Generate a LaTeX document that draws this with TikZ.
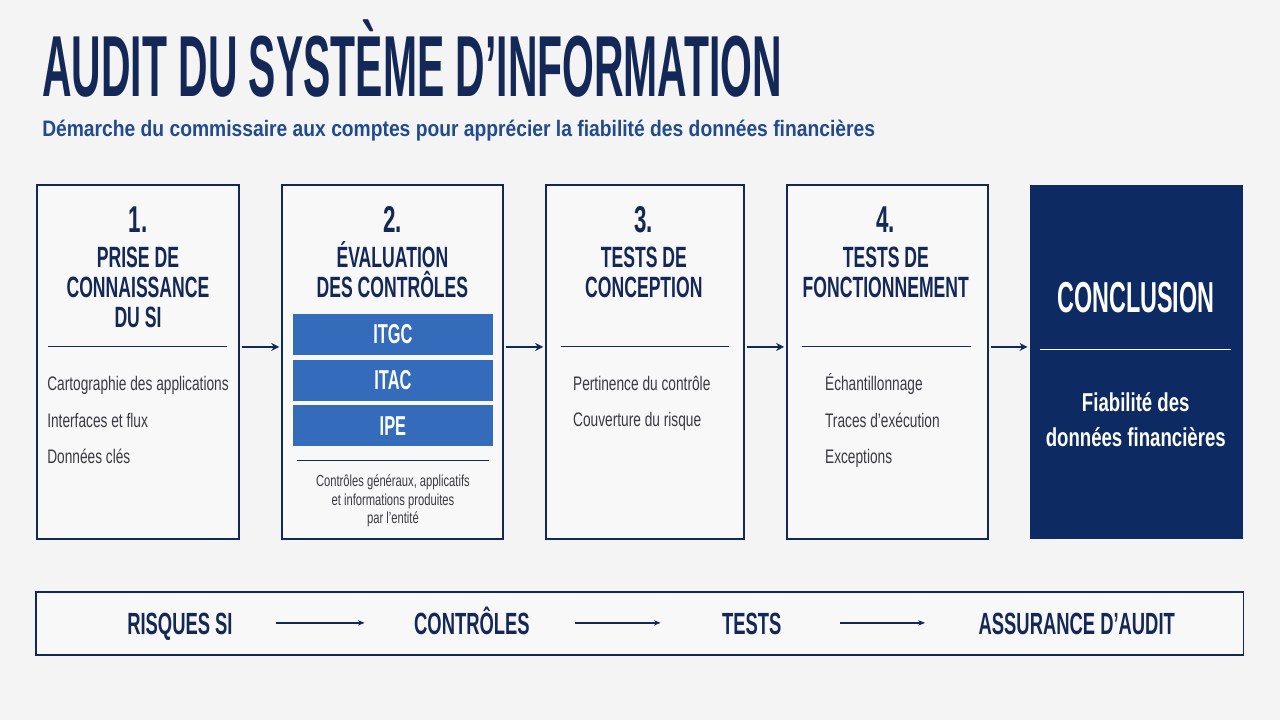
\documentclass[tikz,border=0pt]{standalone}
\usepackage{fontspec}
\setmainfont{Liberation Sans}
\newfontfamily\titlefont[FakeStretch=0.472]{Liberation Sans}
\newfontfamily\conclfont[FakeStretch=0.54]{Liberation Sans}
\newfontfamily\condfont[FakeStretch=0.6]{Liberation Sans}
\newfontfamily\subfont[FakeStretch=0.86]{Liberation Sans}
\newfontfamily\fiabfont[FakeStretch=0.72]{Liberation Sans}
\newfontfamily\itemfont[FakeStretch=0.7]{Liberation Sans}
\usetikzlibrary{arrows.meta, positioning, calc}
\definecolor{navy}{RGB}{20,40,88}
\definecolor{conclblue}{RGB}{14,42,98}
\definecolor{barblue}{RGB}{52,107,187}
\definecolor{subblue}{RGB}{33,75,140}
\definecolor{itemgray}{RGB}{58,58,64}
\definecolor{bggray}{RGB}{244,244,245}
\definecolor{boxfill}{RGB}{248,248,249}

\begin{document}
\begin{tikzpicture}[
    x=0.75pt, y=-0.75pt,
    stepbox/.style={rectangle, draw=navy, line width=1.1pt, fill=boxfill, minimum height=265.5pt, inner sep=0pt},
    conclbox/.style={rectangle, fill=conclblue, minimum height=266pt, inner sep=0pt},
    num/.style={anchor=base, inner sep=0pt, text=navy, font=\condfont\bfseries\fontsize{28}{28}\selectfont},
    head/.style={anchor=base, inner sep=0pt, align=center, text=navy, font=\condfont\bfseries\fontsize{22}{22.6}\selectfont},
    ctrlbar/.style={rectangle, fill=barblue, minimum width=150pt, minimum height=30.75pt, inner sep=0pt, text=white, font=\condfont\bfseries\fontsize{20.5}{20.5}\selectfont},
    item/.style={anchor=base west, inner sep=0pt, align=left, text=itemgray, font=\itemfont\fontsize{14.7}{27.5}\selectfont},
    note/.style={anchor=base, inner sep=0pt, align=center, text=itemgray, font=\itemfont\fontsize{12}{13.9}\selectfont},
    sep/.style={draw=navy, line width=0.8pt},
    arrow/.style={-{Stealth[length=6pt, width=6pt]}, line width=1.5pt, draw=navy, shorten <=1.5pt, shorten >=1.5pt},
    flowtxt/.style={anchor=base, inner sep=0pt, text=navy, font=\condfont\bfseries\fontsize{23}{23}\selectfont},
    flowarrow/.style={-{Stealth[length=5pt, width=4pt]}, line width=1pt, draw=navy}
]

% Background
\node (bg) [fill=bggray, minimum width=960pt, minimum height=540pt, inner sep=0pt, anchor=north west] at (0,0) {};
\useasboundingbox (0,0) rectangle (1280,720);

% Title
\node (title) [anchor=base west, inner sep=0pt, text=navy, font=\titlefont\bfseries\fontsize{65}{65}\selectfont] at (42,97) {AUDIT DU SYSTÈME D’INFORMATION};
\node (subtitle) [anchor=base west, inner sep=0pt, text=subblue, font=\subfont\bfseries\fontsize{16.8}{18}\selectfont] at (42,137) {Démarche du commissaire aux comptes pour apprécier la fiabilité des données financières};

% Steps
\node (s1) [stepbox, minimum width=151.5pt] at (138,362) {};
\node (s2) [stepbox, minimum width=165.75pt] at (392.5,362) {};
\node (s3) [stepbox, minimum width=148.5pt] at (645,362) {};
\node (s4) [stepbox, minimum width=150.75pt] at (887.5,362) {};
\node (s5) [conclbox, minimum width=159.75pt] at (1136.5,362) {};

\node (n1) [num] at (138,233) {1.};
\node (h1) [head] at (138,328) {PRISE DE\\CONNAISSANCE\\DU SI};
\node (n2) [num] at (392.5,233) {2.};
\node (h2) [head] at (392.5,298) {ÉVALUATION\\DES CONTRÔLES};
\node (n3) [num] at (644,233) {3.};
\node (h3) [head] at (644,298) {TESTS DE\\CONCEPTION};
\node (n4) [num] at (886,233) {4.};
\node (h4) [head] at (886,298) {TESTS DE\\FONCTIONNEMENT};

% Separators
\draw [sep] (48,347) -- (227,347);
\draw [sep] (297,461) -- (489,461);
\draw [sep] (561,347) -- (729,347);
\draw [sep] (802,347) -- (971,347);
\draw [sep, draw=white] (1040,350) -- (1231,350);

% Controls
\node (itgc) [ctrlbar] at (393,334.5) {ITGC};
\node (itac) [ctrlbar] at (393,380.5) {ITAC};
\node (ipe) [ctrlbar] at (393,426) {IPE};

% Contents
\node (i1) [item] at (47,464) {Cartographie des applications\\Interfaces et flux\\Données clés};
\node (note2) [note] at (393,524) {Contrôles généraux, applicatifs\\et informations produites\\par l’entité};
\node (i3) [item] at (573,427) {Pertinence du contrôle\\Couverture du risque};
\node (i4) [item] at (825,464) {Échantillonnage\\Traces d’exécution\\Exceptions};

\node (concl) [anchor=base, inner sep=0pt, text=white, font=\conclfont\bfseries\fontsize{32.5}{32.5}\selectfont] at (1136,313) {CONCLUSION};
\node (fiab) [anchor=base, inner sep=0pt, align=center, text=white, font=\fiabfont\bfseries\fontsize{19.4}{26.25}\selectfont] at (1136,447) {Fiabilité des\\données financières};

% Arrows
\coordinate (mid) at (0,347);
\draw [arrow] (s1.east |- mid) -- (s2.west |- mid);
\draw [arrow] (s2.east |- mid) -- (s3.west |- mid);
\draw [arrow] (s3.east |- mid) -- (s4.west |- mid);
\draw [arrow] (s4.east |- mid) -- (s5.west |- mid);

% Bottom flow
\node (flow) [rectangle, draw=navy, line width=1.1pt, fill=boxfill, minimum width=906pt, minimum height=47.25pt, inner sep=0pt] at (640,623.5) {};
\node (f1) [flowtxt] at (180,635) {RISQUES SI};
\node (f2) [flowtxt] at (472,635) {CONTRÔLES};
\node (f3) [flowtxt] at (752,635) {TESTS};
\node (f4) [flowtxt] at (1077,635) {ASSURANCE D’AUDIT};

\coordinate (fl) at (0,623);
\draw [flowarrow, shorten <=32pt, shorten >=37pt] (f1.east |- fl) -- (f2.west |- fl);
\draw [flowarrow, shorten <=34pt, shorten >=46pt] (f2.east |- fl) -- (f3.west |- fl);
\draw [flowarrow, shorten <=44pt, shorten >=40pt] (f3.east |- fl) -- (f4.west |- fl);

\end{tikzpicture}
\end{document}
